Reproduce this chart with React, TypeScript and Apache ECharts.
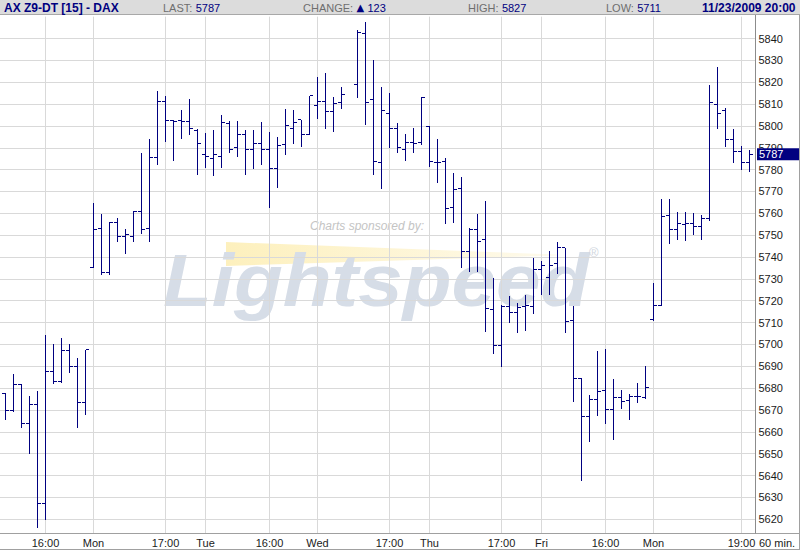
import React, { useEffect, useRef } from 'react';
import * as echarts from 'echarts';

// ---- header info ----
const TITLE = 'AX Z9-DT [15] - DAX';
const LAST = 5787;
const CHANGE = 123;
const HIGH = 5827;
const LOW = 5711;
const STAMP = '11/23/2009 20:00';
const PERIOD = '60 min.';

// ---- hourly sessions (bar start hours) ----
const SESSIONS = [
  { date: '11/13', first: 11, last: 21 },
  { date: '11/16', first: 8, last: 21 },
  { date: '11/17', first: 8, last: 21 },
  { date: '11/18', first: 8, last: 21 },
  { date: '11/19', first: 8, last: 21 },
  { date: '11/20', first: 8, last: 21 },
  { date: '11/23', first: 8, last: 20 },
];
const CATEGORIES: string[] = [];
SESSIONS.forEach((s) => {
  for (let h = s.first; h <= s.last; h++) CATEGORIES.push(`${s.date} ${String(h).padStart(2, '0')}:00`);
});

// ---- x tick labels ----
const TICK_LABELS: [string, string][] = [
  ['11/13 16:00', '16:00'],
  ['11/16 08:00', 'Mon'],
  ['11/16 17:00', '17:00'],
  ['11/17 08:00', 'Tue'],
  ['11/17 16:00', '16:00'],
  ['11/18 08:00', 'Wed'],
  ['11/18 17:00', '17:00'],
  ['11/19 08:00', 'Thu'],
  ['11/19 17:00', '17:00'],
  ['11/20 08:00', 'Fri'],
  ['11/20 16:00', '16:00'],
  ['11/23 08:00', 'Mon'],
  ['11/23 19:00', '19:00'],
];

// ---- OHLC values ----
const OPEN = [
  5677.4, 5669.6, 5681.7, 5663.7, 5672.7, 5627.0, 5687.6, 5683.1, 5697.4, 5690.0, 5673.6,
  5735.3, 5753.1, 5732.8, 5756.0, 5749.4, 5749.4, 5760.9, 5753.1, 5785.7, 5811.3, 5802.7, 5802.7, 5802.2, 5798.0,
  5787.0, 5785.2, 5786.1, 5801.3, 5790.3, 5796.1, 5789.4, 5792.0, 5789.1, 5780.7, 5791.7, 5798.8, 5802.8, 5796.1,
  5809.4, 5811.3, 5806.8, 5810.9, null, 5819.1, 5842.3, 5812.1, 5783.3, 5805.6, 5798.8, 5789.4, 5792.3, 5792.3,
  5799.8, 5783.3, 5783.9, 5762.7, 5771.4, 5742.4, 5752.5, 5748.2, 5715.9, 5699.7, 5717.4, 5714.8, 5717.3, 5717.4,
  5734.5, 5730.4, 5736.9, 5744.2, 5710.9, 5684.5, 5666.8, 5675.0, 5679.1, 5670.0, 5675.9, 5674.4, 5676.1, 5675.9,
  5711.2, 5717.9, 5759.2, 5752.7, 5754.9, 5755.5, 5754.0, 5757.4, 5809.8, 5806.9, 5793.7, 5788.5, 5783.3,
];
const HIGHS = [
  5677.7, 5686.3, 5682.0, 5676.6, 5678.9, 5704.5, 5700.0, 5703.0, 5700.0, 5694.0, 5697.5,
  5764.7, 5759.7, 5756.0, 5757.8, 5752.8, 5760.9, 5787.6, 5794.0, 5816.2, 5813.6, 5802.8, 5807.5, 5812.3, 5798.7,
  5796.7, 5798.2, 5805.2, 5802.3, 5802.3, 5798.0, 5798.0, 5801.7, 5797.1, 5794.9, 5807.7, 5807.5, 5802.8, 5813.9,
  5822.2, 5824.1, 5813.0, 5817.6, null, 5843.8, 5847.6, 5830.1, 5817.7, 5815.2, 5801.3, 5796.3, 5799.0, 5813.0,
  5799.8, 5794.0, 5785.4, 5778.4, 5776.7, 5753.4, 5759.8, 5765.7, 5730.2, 5717.9, 5722.3, 5719.1, 5722.6, 5739.7,
  5738.3, 5742.7, 5746.8, 5744.2, 5717.6, 5684.6, 5676.9, 5697.1, 5697.9, 5684.2, 5679.3, 5677.5, 5682.5, 5690.3,
  5728.1, 5766.5, 5766.5, 5760.6, 5760.6, 5760.1, 5759.2, 5818.7, 5826.9, 5808.0, 5798.5, 5790.8, 5788.9,
];
const LOWS = [
  5665.8, 5669.5, 5662.2, 5650.3, 5616.4, 5620.2, 5682.3, 5683.0, 5687.3, 5662.2, 5668.0,
  5735.3, 5732.2, 5732.2, 5747.2, 5741.7, 5747.5, 5750.8, 5747.2, 5782.7, 5793.2, 5784.5, 5794.6, 5796.4, 5777.8,
  5781.3, 5777.6, 5781.3, 5788.2, 5786.3, 5777.9, 5780.8, 5782.5, 5763.0, 5772.2, 5787.3, 5792.3, 5790.9, 5796.1,
  5803.7, 5799.1, 5797.8, 5808.1, null, 5813.3, 5801.0, 5778.0, 5771.8, 5790.2, 5788.2, 5784.5, 5787.9, 5791.5,
  5781.8, 5774.4, 5755.4, 5756.2, 5735.6, 5733.4, 5733.7, 5706.0, 5695.9, 5690.1, 5710.1, 5705.5, 5706.4, 5714.2,
  5722.9, 5723.2, 5732.8, 5705.5, 5674.0, 5637.8, 5655.7, 5667.6, 5664.0, 5656.7, 5670.8, 5665.7, 5673.7, 5675.3,
  5711.2, 5717.9, 5746.3, 5748.2, 5747.9, 5750.4, 5748.4, 5757.1, 5799.1, 5790.9, 5783.6, 5780.4, 5779.5,
];
const CLOSE = [
  5669.6, 5681.7, 5663.7, 5672.7, 5627.0, 5687.6, 5683.1, 5697.4, 5689.9, 5673.6, 5697.5,
  5752.8, 5732.8, 5756.0, 5749.4, 5750.4, 5760.9, 5752.8, 5785.7, 5811.3, 5802.7, 5802.2, 5802.2, 5798.7, 5792.0,
  5786.1, 5787.0, 5801.6, 5789.2, 5796.1, 5789.4, 5792.0, 5789.4, 5780.7, 5791.1, 5800.0, 5801.7, 5796.1, 5813.9,
  5811.3, 5806.8, 5810.3, 5814.5, null, 5842.7, 5810.9, 5783.8, 5806.9, 5798.7, 5790.1, 5792.3, 5792.0, 5813.0,
  5783.8, 5783.3, 5762.0, 5771.1, 5742.7, 5752.5, 5747.3, 5716.6, 5699.7, 5717.4, 5714.8, 5717.1, 5717.6, 5734.5,
  5736.3, 5736.3, 5744.5, 5710.5, 5684.5, 5666.8, 5675.0, 5678.5, 5670.0, 5675.9, 5673.8, 5676.3, 5676.1, 5680.5,
  5717.6, 5758.6, 5752.7, 5755.4, 5755.5, 5754.0, 5757.4, 5810.9, 5805.5, 5793.7, 5788.5, 5783.3, 5787.1,
];

// ---- y axis ticks ----
const Y_MIN = 5610;
const Y_MAX = 5850;
const Y_STEP = 10;

const NAVY = '#000080';
const FONT = '"Liberation Sans", Arial, sans-serif';

export default function App() {
  const ref = useRef<HTMLDivElement>(null);

  useEffect(() => {
    if (!ref.current) return;
    const chart = echarts.init(ref.current, undefined, { renderer: 'svg' });

    const gridTop = 16.65;
    const gridABottom = 541.05;
    const axisY = 533;
    const pxPerUnit = (gridABottom - gridTop) / (Y_MAX - Y_MIN);
    const minB = Y_MAX - (axisY - gridTop) / pxPerUnit;

    const tickMap: Record<string, string> = {};
    TICK_LABELS.forEach(([k, v]) => (tickMap[k] = v));
    const isTick = (i: number) => tickMap[CATEGORIES[i]] !== undefined;

    const data = CATEGORIES.map((c, i) =>
      OPEN[i] == null ? null : [i, OPEN[i], HIGHS[i], LOWS[i], CLOSE[i]]
    ).filter((d) => d !== null);

    chart.setOption({
      animation: false,
      backgroundColor: '#ffffff',
      grid: [
        { left: 0, right: 44.5, top: gridTop, height: gridABottom - gridTop },
        { left: 5.5, right: 50.5, top: gridTop, height: axisY - gridTop },
      ],
      xAxis: [
        { type: 'value', gridIndex: 0, show: false, min: 0, max: 1 },
        {
          type: 'category',
          gridIndex: 1,
          data: CATEGORIES,
          boundaryGap: false,
          z: 2,
          axisLine: { show: false },
          axisTick: { show: false },
          splitLine: {
            show: true,
            interval: (i: number) => isTick(i),
            lineStyle: { color: '#d9d9d9', width: 1 },
          },
          axisLabel: {
            interval: (i: number) => isTick(i),
            formatter: (v: string) => tickMap[v] || '',
            margin: 4,
            fontFamily: FONT,
            fontSize: 11,
            color: '#1a1a1a',
          },
        },
      ],
      yAxis: [
        {
          type: 'value',
          gridIndex: 0,
          position: 'right',
          min: Y_MIN,
          max: Y_MAX,
          interval: Y_STEP,
          z: 2,
          axisLine: { show: false },
          axisTick: { show: false },
          splitLine: {
            show: true,
            showMinLine: false,
            showMaxLine: false,
            lineStyle: { color: '#d9d9d9', width: 1 },
          },
          axisLabel: {
            margin: 3,
            fontFamily: FONT,
            fontSize: 11,
            color: '#1a1a1a',
            showMinLabel: false,
            showMaxLabel: false,
            formatter: (v: number) => String(Math.round(v)),
          },
        },
        { type: 'value', gridIndex: 1, show: false, min: minB, max: Y_MAX },
      ],
      series: [
        {
          type: 'custom',
          xAxisIndex: 1,
          yAxisIndex: 1,
          z: 3,
          encode: { x: 0, y: [1, 2, 3, 4] },
          data,
          renderItem: (params: any, api: any) => {
            const idx = api.value(0);
            const o = api.coord([idx, api.value(1)]);
            const h = api.coord([idx, api.value(2)]);
            const l = api.coord([idx, api.value(3)]);
            const c = api.coord([idx, api.value(4)]);
            const px = Math.floor(o[0]);
            const yh = Math.round(h[1]);
            const yl = Math.round(l[1]);
            const yo = Math.floor(o[1]);
            const yc = Math.floor(c[1]);
            const style = { fill: NAVY, stroke: null };
            return {
              type: 'group',
              children: [
                { type: 'rect', shape: { x: px, y: yh, width: 1, height: Math.max(1, yl - yh + 1) }, style },
                { type: 'rect', shape: { x: px - 3, y: yo, width: 3, height: 1 }, style },
                { type: 'rect', shape: { x: px + 1, y: yc, width: 3, height: 1 }, style },
              ],
            };
          },
          markLine: {
            silent: true,
            symbol: ['none', 'none'],
            lineStyle: { color: 'transparent', width: 0 },
            label: {
              show: true,
              position: 'end',
              distance: 7.5,
              formatter: String(LAST),
              color: '#ffffff',
              backgroundColor: NAVY,
              fontFamily: FONT,
              fontSize: 11,
              lineHeight: 11,
              padding: [1, 16, 0, 2],
            },
            data: [{ yAxis: LAST }],
          },
        },
      ],
      graphic: [
        // watermark
        {
          type: 'polygon',
          silent: true,
          z: 1,
          shape: { points: [[226, 242], [557, 254.5], [557, 255.5], [226, 266]] },
          style: {
            fill: new echarts.graphic.LinearGradient(0, 0, 1, 0, [
              { offset: 0, color: '#fdf0bd' },
              { offset: 1, color: '#fefaec' },
            ]),
          },
        },
        {
          type: 'text',
          silent: true,
          z: 1,
          x: 163,
          y: 280,
          scaleX: 1.08,
          style: {
            text: 'Lightspeed',
            fontFamily: FONT,
            fontSize: 74,
            fontWeight: 'bold',
            fontStyle: 'italic',
            fill: '#d6dde7',
            verticalAlign: 'middle',
          },
        },
        {
          type: 'text',
          silent: true,
          z: 1,
          x: 310,
          y: 226,
          style: {
            text: 'Charts sponsored by:',
            fontFamily: FONT,
            fontSize: 12,
            fontStyle: 'italic',
            fill: '#c4c4c4',
            verticalAlign: 'middle',
          },
        },
        {
          type: 'text',
          silent: true,
          z: 1,
          x: 589,
          y: 252,
          style: { text: '®', fontFamily: FONT, fontSize: 13, fill: '#d0d6de', verticalAlign: 'middle' },
        },
        // frame lines
        { type: 'line', silent: true, z: 10, shape: { x1: 0, y1: 533.5, x2: 800, y2: 533.5 }, style: { stroke: '#a0a0a0', lineWidth: 1 } },
        { type: 'line', silent: true, z: 10, shape: { x1: 755.5, y1: 14, x2: 755.5, y2: 533.5 }, style: { stroke: '#8c8c8c', lineWidth: 1 } },
        { type: 'line', silent: true, z: 10, shape: { x1: 0, y1: 549.5, x2: 800, y2: 549.5 }, style: { stroke: '#a0a0a0', lineWidth: 1 } },
        { type: 'line', silent: true, z: 10, shape: { x1: 799.5, y1: 0, x2: 799.5, y2: 550 }, style: { stroke: '#a0a0a0', lineWidth: 1 } },
        // header
        { type: 'rect', silent: true, z: 10, shape: { x: 0, y: 0, width: 800, height: 14 }, style: { fill: '#dcdcdc' } },
        { type: 'line', silent: true, z: 11, shape: { x1: 0, y1: 14.5, x2: 800, y2: 14.5 }, style: { stroke: '#a8a8a8', lineWidth: 1 } },
        {
          type: 'text', silent: true, z: 11, x: 4, y: 7.5,
          style: { text: TITLE, fontFamily: FONT, fontSize: 12, fontWeight: 'bold', fill: NAVY, verticalAlign: 'middle' },
        },
        {
          type: 'text', silent: true, z: 11, x: 163, y: 7.5,
          style: {
            text: `{l|LAST:} {v|${LAST}}`,
            verticalAlign: 'middle',
            rich: {
              l: { fontFamily: FONT, fontSize: 11, fill: '#6e6e6e' },
              v: { fontFamily: FONT, fontSize: 11, fill: NAVY },
            },
          },
        },
        {
          type: 'text', silent: true, z: 11, x: 303, y: 7.5,
          style: {
            text: `{l|CHANGE:} {t|▲} {v|${CHANGE}}`,
            verticalAlign: 'middle',
            rich: {
              l: { fontFamily: FONT, fontSize: 11, fill: '#6e6e6e' },
              t: { fontFamily: '"DejaVu Sans", sans-serif', fontSize: 10, fill: NAVY },
              v: { fontFamily: FONT, fontSize: 11, fill: NAVY },
            },
          },
        },
        {
          type: 'text', silent: true, z: 11, x: 468, y: 7.5,
          style: {
            text: `{l|HIGH:} {v|${HIGH}}`,
            verticalAlign: 'middle',
            rich: {
              l: { fontFamily: FONT, fontSize: 11, fill: '#6e6e6e' },
              v: { fontFamily: FONT, fontSize: 11, fill: NAVY },
            },
          },
        },
        {
          type: 'text', silent: true, z: 11, x: 606, y: 7.5,
          style: {
            text: `{l|LOW:} {v|${LOW}}`,
            verticalAlign: 'middle',
            rich: {
              l: { fontFamily: FONT, fontSize: 11, fill: '#6e6e6e' },
              v: { fontFamily: FONT, fontSize: 11, fill: NAVY },
            },
          },
        },
        {
          type: 'text', silent: true, z: 11, x: 795.5, y: 7.5,
          style: { text: STAMP, fontFamily: FONT, fontSize: 12, fontWeight: 'bold', fill: NAVY, align: 'right', verticalAlign: 'middle' },
        },
        {
          type: 'text', silent: true, z: 11, x: 759, y: 543,
          style: { text: PERIOD, fontFamily: FONT, fontSize: 11, fill: '#1a1a1a', verticalAlign: 'middle' },
        },
      ],
    });

    return () => chart.dispose();
  }, []);

  return (
    <div
      ref={ref}
      style={{ position: 'absolute', left: 0, top: 0, width: 800, height: 550 }}
    />
  );
}
